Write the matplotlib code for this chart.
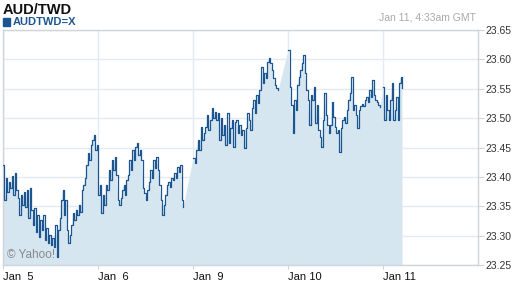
import numpy as np
from matplotlib import pyplot as plt
from matplotlib.patches import Rectangle

plt.rcParams['font.family'] = ['Liberation Sans', 'DejaVu Sans']

# AUD/TWD quotes, one list per trading session (day 0 = Jan 5)
jan5 = [23.420, 23.361, 23.398, 23.374, 23.391, 23.381, 23.401, 23.369, 23.407, 23.378,
        23.364, 23.335, 23.369, 23.352, 23.374, 23.349, 23.378, 23.330, 23.381, 23.344,
        23.318, 23.347, 23.306, 23.335, 23.298, 23.327, 23.310, 23.335, 23.293, 23.313,
        23.287, 23.301, 23.284, 23.296, 23.281, 23.318, 23.264, 23.310, 23.330, 23.361,
        23.378, 23.335, 23.361, 23.310, 23.287, 23.301, 23.318, 23.339, 23.327, 23.344,
        23.335, 23.352, 23.340, 23.378, 23.386, 23.398, 23.420, 23.441, 23.429, 23.454,
        23.463, 23.471, 23.446, 23.454, 23.369, 23.386, 23.339, 23.369, 23.352, 23.386,
        23.378, 23.412, 23.395, 23.429, 23.412, 23.434, 23.403, 23.361, 23.352, 23.364,
        23.378, 23.386, 23.369, 23.395, 23.403, 23.429, 23.412, 23.446, 23.429, 23.451,
        23.458, 23.437, 23.446, 23.429, 23.381, 23.373, 23.361, 23.378, 23.391, 23.412,
        23.398, 23.429, 23.415, 23.434, 23.412, 23.386, 23.361, 23.335, 23.352, 23.369,
        23.386, 23.391, 23.383, 23.398, 23.395, 23.407, 23.398, 23.417, 23.408, 23.420,
        23.361, 23.349]
jan9 = [23.432, 23.424, 23.446, 23.463, 23.446, 23.485, 23.463, 23.475, 23.485, 23.505,
        23.480, 23.497, 23.517, 23.500, 23.510, 23.497, 23.509, 23.463, 23.500, 23.471,
        23.488, 23.454, 23.509, 23.458, 23.483, 23.497, 23.451, 23.493, 23.497, 23.475,
        23.488, 23.471, 23.480, 23.449, 23.483, 23.509, 23.497, 23.480, 23.517, 23.531,
        23.509, 23.539, 23.526, 23.548, 23.587, 23.560, 23.577, 23.568, 23.596, 23.602,
        23.594, 23.582, 23.568, 23.556, 23.551, 23.548]
jan10 = [23.616, 23.553, 23.522, 23.475, 23.531, 23.514, 23.556, 23.570, 23.582, 23.594,
         23.607, 23.577, 23.548, 23.531, 23.488, 23.539, 23.531, 23.553, 23.492, 23.522,
         23.480, 23.468, 23.451, 23.497, 23.543, 23.505, 23.488, 23.475, 23.488, 23.527,
         23.502, 23.485, 23.475, 23.480, 23.442, 23.483, 23.497, 23.502, 23.492, 23.514,
         23.531, 23.543, 23.570, 23.514, 23.522, 23.505, 23.483, 23.514, 23.521, 23.524,
         23.521, 23.531, 23.536, 23.527, 23.548, 23.536, 23.565, 23.539, 23.531, 23.527,
         23.522, 23.519]
jan11 = [23.553, 23.497, 23.539, 23.514, 23.497, 23.531, 23.560, 23.497, 23.514, 23.536,
         23.497, 23.560, 23.570, 23.551]

# (start, end) of each session in days from Jan 5
sessions = [(0.0, 1.895), (2.0, 2.895), (3.0, 3.968), (4.0, 4.2)]
day_labels = ['Jan  5', 'Jan  6', 'Jan  9', 'Jan 10', 'Jan 11']
y_ticks = [23.25, 23.30, 23.35, 23.40, 23.45, 23.50, 23.55, 23.60, 23.65]

line_col = '#1c5690'
fill_col = '#d6e6f1'
grid_col = '#e4eaf1'
edge_col = '#d0d4d8'

fig = plt.figure(figsize=(5.12, 2.88), dpi=100)
ax = fig.add_axes([3 / 512, 1 - 265 / 288, 475 / 512, 235 / 288])

all_t, all_v = [], []
for (t0, t1), vals in zip(sessions, [jan5, jan9, jan10, jan11]):
    t = np.linspace(t0, t1, len(vals))
    ax.step(t, vals, where='post', color=line_col, lw=0.9, zorder=3)
    all_t.extend(t)
    all_v.extend(vals)

ax.fill_between(all_t, all_v, 23.25, color=fill_col, lw=0, zorder=1)

ax.set_xlim(0, 5)
ax.set_ylim(23.25, 23.65)
ax.set_yticks(y_ticks)
ax.set_yticklabels(['%.2f' % v for v in y_ticks])
ax.yaxis.tick_right()
ax.set_xticks(range(5))
ax.set_xticklabels(day_labels, ha='left')
ax.tick_params(axis='y', length=4, width=0.8, color=edge_col, pad=1,
               labelsize=7.5, labelcolor='#333333')
ax.tick_params(axis='x', length=3, width=0.8, color=edge_col, pad=2,
               labelsize=8, labelcolor='#111111')
ax.grid(True, color=grid_col, lw=1.0, zorder=0)
ax.set_axisbelow(True)
for s in ax.spines.values():
    s.set_color(edge_col)
    s.set_linewidth(1.0)

fig.text(3 / 512, 1 - 10 / 288, 'AUD/TWD', fontsize=10.5, fontweight='bold',
         color='#111111', va='center')
fig.patches.append(Rectangle((3 / 512, 1 - 26 / 288), 7 / 512, 8 / 288,
                             transform=fig.transFigure, color=line_col))
fig.text(13 / 512, 1 - 22 / 288, 'AUDTWD=X', fontsize=8, fontweight='bold',
         color=line_col, va='center')
fig.text(476 / 512, 1 - 17 / 288, 'Jan 11, 4:33am GMT', fontsize=7.5,
         color='#aaaaaa', ha='right', va='center')
fig.text(7 / 512, 1 - 255 / 288, '\u00a9 Yahoo!', fontsize=8.5, color='#888888',
         va='center')

fig.savefig('out.png', dpi=100)
